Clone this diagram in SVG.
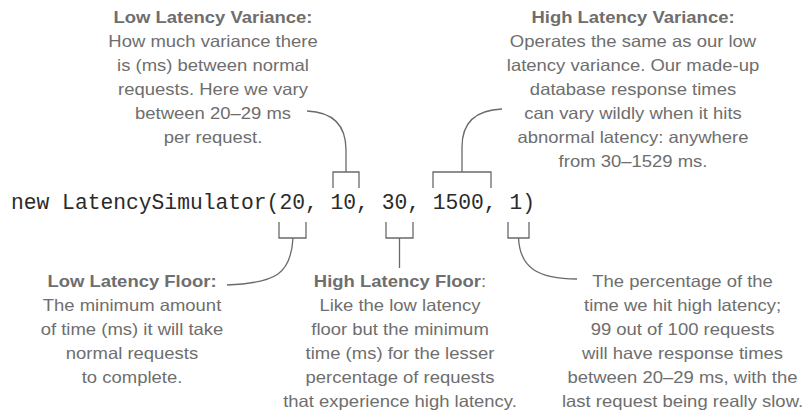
<svg xmlns="http://www.w3.org/2000/svg" width="805" height="413" viewBox="0 0 805 413">
<style>
.t{font-family:"Liberation Sans",Arial,sans-serif;font-size:16.5px;fill:#6e6e6e;text-anchor:middle}
.b{font-weight:bold}
.code{font-family:"Liberation Mono","Courier New",monospace;font-size:21.3px;fill:#2a2a2a}
.ln{fill:none;stroke:#6a6a6a;stroke-width:1.3}
</style>
<rect width="805" height="413" fill="#ffffff"/>
<g id="code"><text class="code" x="11" y="209">new LatencySimulator(20, 10, 30, 1500, 1)</text></g>
<g id="low-variance" transform="translate(213 0) scale(1.12 1)">
<text class="t" x="0" y="23"><tspan class="b">Low Latency Variance:</tspan><tspan x="0" dy="24">How much variance there</tspan><tspan x="0" dy="24">is (ms) between normal</tspan><tspan x="0" dy="24">requests. Here we vary</tspan><tspan x="0" dy="24">between 20–29 ms</tspan><tspan x="0" dy="24">per request.</tspan></text>
</g>
<g id="high-variance" transform="translate(633 0) scale(1.12 1)">
<text class="t" x="0" y="23"><tspan class="b">High Latency Variance:</tspan><tspan x="0" dy="24">Operates the same as our low</tspan><tspan x="0" dy="24">latency variance. Our made-up</tspan><tspan x="0" dy="24">database response times</tspan><tspan x="0" dy="24">can vary wildly when it hits</tspan><tspan x="0" dy="24">abnormal latency: anywhere</tspan><tspan x="0" dy="24">from 30–1529 ms.</tspan></text>
</g>
<g id="low-floor" transform="translate(132 0) scale(1.12 1)">
<text class="t" x="0" y="287"><tspan class="b">Low Latency Floor:</tspan><tspan x="0" dy="24">The minimum amount</tspan><tspan x="0" dy="24">of time (ms) it will take</tspan><tspan x="0" dy="24">normal requests</tspan><tspan x="0" dy="24">to complete.</tspan></text>
</g>
<g id="high-floor" transform="translate(400 0) scale(1.12 1)">
<text class="t" x="0" y="287"><tspan class="b">High Latency Floor</tspan>:<tspan x="0" dy="24">Like the low latency</tspan><tspan x="0" dy="24">floor but the minimum</tspan><tspan x="0" dy="24">time (ms) for the lesser</tspan><tspan x="0" dy="24">percentage of requests</tspan><tspan x="0" dy="24">that experience high latency.</tspan></text>
</g>
<g id="percentage" transform="translate(682.5 0) scale(1.12 1)">
<text class="t" x="0" y="287"><tspan>The percentage of the</tspan><tspan x="0" dy="24">time we hit high latency;</tspan><tspan x="0" dy="24">99 out of 100 requests</tspan><tspan x="0" dy="24">will have response times</tspan><tspan x="0" dy="24">between 20–29 ms, with the</tspan><tspan x="0" dy="24">last request being really slow.</tspan></text>
</g>
<g id="connectors">
<path class="ln" d="M333,188 V172 H359 V188"/>
<path class="ln" d="M307,111 C331,112 346,123 346,150 V172"/>
<path class="ln" d="M433,188 V172 H491 V188"/>
<path class="ln" d="M502,109 C476,110 462,122 462,147 V172"/>
<path class="ln" d="M279,222 V238 H306 V222"/>
<path class="ln" d="M293,238 C291,274 276,283 227,285"/>
<path class="ln" d="M386,222 V238 H413 V222"/>
<path class="ln" d="M399.5,238 V268"/>
<path class="ln" d="M508,222 V238 H529 V222"/>
<path class="ln" d="M518.5,238 C520,268 538,279 577,279"/>
</g>
</svg>
